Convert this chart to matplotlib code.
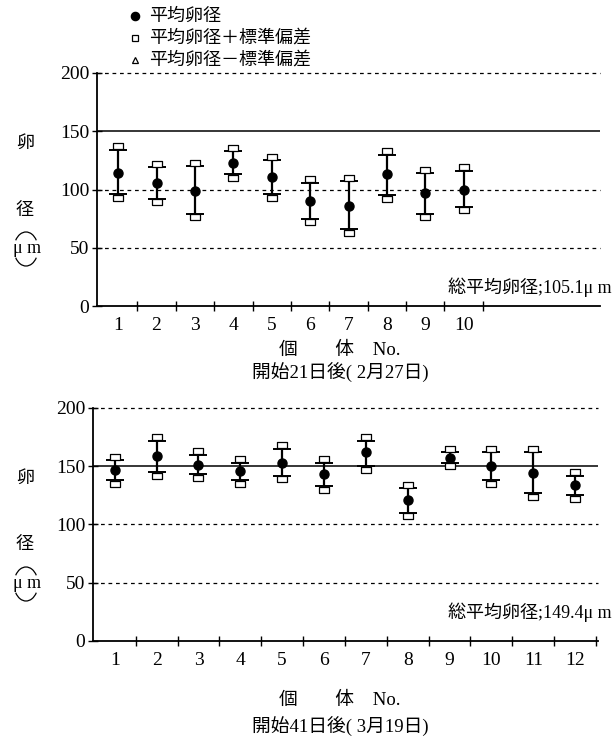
import matplotlib
matplotlib.use("Agg")
import matplotlib.pyplot as plt
import matplotlib.transforms as mtransforms
from matplotlib.lines import Line2D
from matplotlib.patches import Arc

plt.rcParams['font.family'] = ['Liberation Serif', 'Noto Sans CJK JP', 'DejaVu Sans']

# 開始21日後 (2月27日)
ind1 = [1, 2, 3, 4, 5, 6, 7, 8, 9, 10]
mean1 = [114, 106, 99, 123, 111, 90, 86, 113, 97, 100]
upper1 = [134, 119, 120, 133, 125, 106, 107, 130, 114, 116]
lower1 = [96, 92, 79, 113, 96, 75, 66, 95, 79, 85]

# 開始41日後 (3月19日)
ind2 = [1, 2, 3, 4, 5, 6, 7, 8, 9, 10, 11, 12]
mean2 = [147, 159, 151, 146, 153, 143, 162, 121, 157, 150, 144, 134]
upper2 = [155, 172, 160, 153, 165, 153, 172, 131, 162, 162, 162, 142]
lower2 = [138, 145, 143, 138, 142, 133, 150, 110, 153, 138, 127, 125]

yticks = [0, 50, 100, 150, 200]
dashed_levels = [50, 100, 200]
solid_level = 150

# flat open box used for the ±SD marks
box = [(-1, -0.7), (1, -0.7), (1, 0.7), (-1, 0.7), (-1, -0.7)]

W, H = 616, 741
fig = plt.figure(figsize=(W / 100, H / 100), dpi=100)
ax1 = fig.add_axes([0.1575, 0.587, 0.8165, 0.3145])
ax2 = fig.add_axes([0.151, 0.135, 0.820, 0.3144])


def px(x, y):
    # pixel position (from top-left) -> figure fraction
    return x / W, 1 - y / H


def draw_panel(ax, ind, mean, upper, lower, xlim):
    n_ticks = len(ind)
    for lv in dashed_levels:
        ax.axhline(lv, color='black', lw=0.9, ls=(0, (3, 3)), clip_on=False)
    ax.axhline(solid_level, color='black', lw=1.1)
    yerr = [[m - lo for m, lo in zip(mean, lower)], [u - m for m, u in zip(mean, upper)]]
    ax.errorbar(ind, mean, yerr=yerr, fmt='o', color='black', ms=6.5,
                ecolor='black', elinewidth=1.6, capsize=6.5, capthick=1.4, zorder=3)
    up_off = mtransforms.offset_copy(ax.transData, fig=fig, x=0, y=2.5, units='points')
    lo_off = mtransforms.offset_copy(ax.transData, fig=fig, x=0, y=-2.5, units='points')
    ax.plot(ind, upper, marker=box, ms=6.5, mfc='white', mec='black', mew=0.9,
            ls='none', transform=up_off, zorder=4)
    ax.plot(ind, lower, marker=box, ms=6.5, mfc='white', mec='black', mew=0.9,
            ls='none', transform=lo_off, zorder=2)

    ax.set_xlim(*xlim)
    ax.set_ylim(0, 200)
    for s in ['top', 'right']:
        ax.spines[s].set_visible(False)
    ax.spines['left'].set_linewidth(1.3)
    ax.spines['bottom'].set_linewidth(1.3)

    ax.set_yticks(yticks)
    ax.set_yticklabels([str(t) for t in yticks], fontsize=14)
    ax.tick_params(axis='y', direction='inout', length=7, width=1.0, pad=2)

    major = [i + 0.5 for i in range(1, n_ticks + 1)]
    ax.set_xticks(major)
    ax.set_xticklabels([])
    ax.tick_params(axis='x', which='major', direction='inout', length=7, width=1.0)
    ax.set_xticks(ind, minor=True)
    ax.set_xticklabels([str(i) for i in ind], minor=True, fontsize=14)
    ax.tick_params(axis='x', which='minor', length=0, pad=8)


def y_label(dy):
    fig.text(*px(25, 143 + dy), '卵', ha='center', va='center', fontsize=13)
    fig.text(*px(25, 210 + dy), '径', ha='center', va='center', fontsize=13)
    fig.text(*px(27, 249 + dy), 'μ m', ha='center', va='center', fontsize=13)
    cx, cy = px(26, 249 + dy)
    for t1, t2 in [(35, 145), (215, 325)]:
        fig.add_artist(Arc((cx, cy), 24 / W, 34 / H, theta1=t1, theta2=t2,
                           transform=fig.transFigure, lw=0.9, color='black'))


draw_panel(ax1, ind1, mean1, upper1, lower1, (0.45, 13.55))
draw_panel(ax2, ind2, mean2, upper2, lower2, (0.48, 12.55))

y_label(0)
y_label(335)

fig.text(*px(612, 287), '総平均卵径;105.1μ m', ha='right', va='center', fontsize=13)
fig.text(*px(612, 612), '総平均卵径;149.4μ m', ha='right', va='center', fontsize=13)

fig.text(*px(340, 350), '個　　体　No.', ha='center', va='center', fontsize=13.5)
fig.text(*px(340, 373), '開始21日後( 2月27日)', ha='center', va='center', fontsize=13.5)
fig.text(*px(340, 700), '個　　体　No.', ha='center', va='center', fontsize=13.5)
fig.text(*px(340, 727), '開始41日後( 3月19日)', ha='center', va='center', fontsize=13.5)

# legend
legend_rows = [('o', 'black', '平均卵径'),
               ('s', 'white', '平均卵径＋標準偏差'),
               ('^', 'white', '平均卵径－標準偏差')]
for k, (mk, fc, lab) in enumerate(legend_rows):
    x0, y0 = px(135, 16 + k * 22)
    fig.add_artist(Line2D([x0], [y0], marker=mk, ms=5 if mk != 'o' else 6,
                          mfc=fc, mec='black', mew=0.9, ls='none',
                          transform=fig.transFigure))
    fig.text(px(149, 0)[0], y0, lab, ha='left', va='center', fontsize=13)

fig.savefig('out.png', dpi=100)
